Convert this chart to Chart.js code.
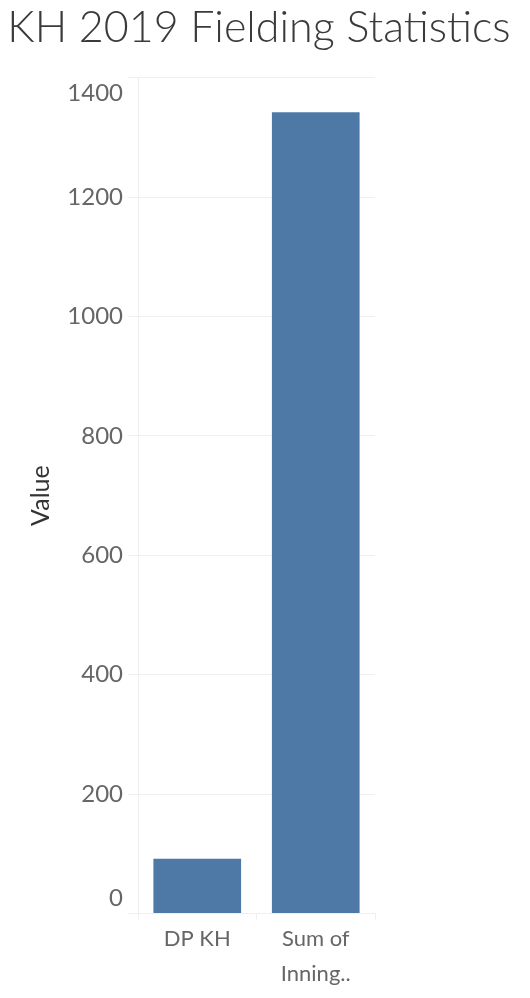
<!DOCTYPE html>
<html>
<head>
<meta charset="utf-8">
<script src="https://cdn.jsdelivr.net/npm/chart.js@4/dist/chart.umd.min.js"></script>
<style>
  html, body { margin: 0; padding: 0; background: #fff; }
  #wrap { width: 530px; height: 998px; }
</style>
</head>
<body>
<div id="wrap"><canvas id="myChart"></canvas></div>
<script>
'use strict'

let chartTitle = 'KH 2019 Fielding Statistics';
let categories = ['DP KH', ['Sum of', 'Inning..']];
let values = [92, 1342];
let yTicks = [0, 200, 400, 600, 800, 1000, 1200, 1400];

let barColor = '#4e79a7';
let gridColor = '#efefef';

function yLabel(value) {
  // push the end labels inward like the original does
  if (value === yTicks[0]) return [String(value), ''];
  if (value === yTicks[yTicks.length - 1]) return ['', String(value)];
  return String(value);
}

let ctx = document.getElementById('myChart').getContext('2d');
let chart = new Chart(ctx, {
  type: 'bar',
  data: {
    labels: categories,
    datasets: [{
      label: 'Value',
      backgroundColor: barColor,
      data: values,
      barPercentage: 0.74,
      categoryPercentage: 1
    }]
  },
  options: {
    responsive: true,
    maintainAspectRatio: false,
    animation: false,
    layout: {
      // title box must stay wide, so the empty right side is a blank axis
      padding: { left: 0, right: 12, top: 0, bottom: 4 }
    },
    plugins: {
      legend: { display: false },
      tooltip: { enabled: false },
      title: {
        display: true,
        text: chartTitle,
        color: '#3a3a3a',
        font: { family: 'Lato', size: 43, weight: 300 },
        padding: { top: 2, bottom: 24 }
      }
    },
    scales: {
      x: {
        grid: {
          display: true,
          offset: true,
          drawOnChartArea: false,
          color: gridColor,
          tickLength: 6
        },
        border: { color: gridColor },
        ticks: {
          color: '#666666',
          padding: 2,
          maxRotation: 0,
          autoSkip: false,
          font: { family: 'Lato', size: 22, lineHeight: 1.6 }
        }
      },
      y: {
        min: 0,
        max: 1400,
        afterBuildTicks: function (scale) {
          scale.ticks = yTicks.map(v => ({ value: v }));
        },
        afterFit: function (scale) { scale.width = 138; },
        grid: {
          color: gridColor,
          tickLength: 10
        },
        border: { color: gridColor },
        ticks: {
          color: '#666666',
          padding: 5,
          font: { family: 'Lato', size: 24, lineHeight: 1.3 },
          callback: function (value) { return yLabel(value); }
        },
        title: {
          display: true,
          text: 'Value',
          color: '#333333',
          font: { family: 'Lato', size: 25 },
          padding: { top: 26, bottom: 11 }
        }
      },
      yBlank: {
        position: 'right',
        display: true,
        grid: { display: false },
        border: { display: false },
        ticks: { display: false },
        afterFit: function (scale) { scale.width = 143; }
      }
    }
  }
});
</script>
</body>
</html>
